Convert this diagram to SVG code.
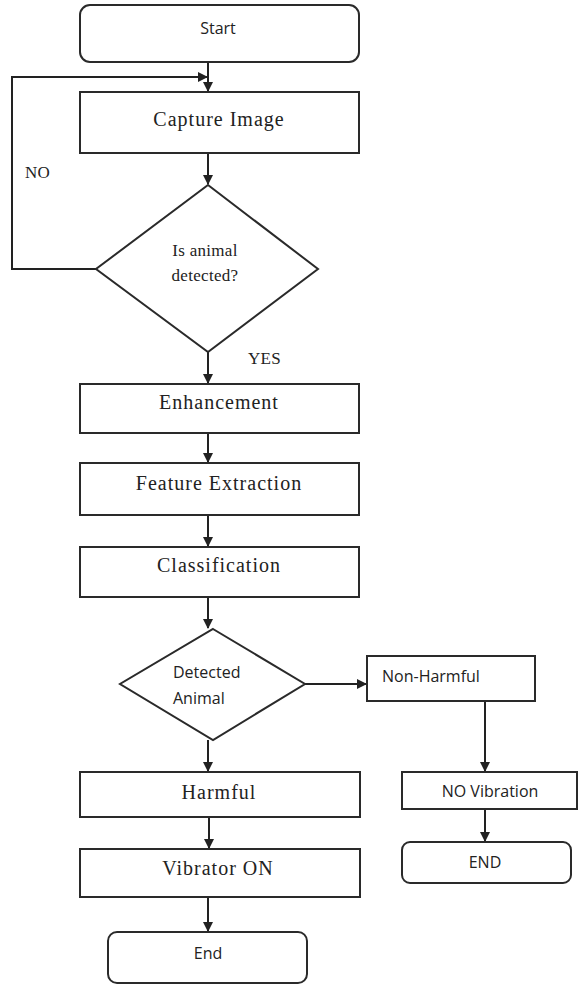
<svg xmlns="http://www.w3.org/2000/svg" width="579" height="985" viewBox="0 0 579 985">
  <defs>
    <marker id="arrow" markerWidth="10" markerHeight="10" refX="9" refY="5" orient="auto" markerUnits="userSpaceOnUse">
      <path d="M0,0 L10,5 L0,10 Z" fill="#222"/>
    </marker>
    <style>
      .box { fill: #fff; stroke: #2a2a2a; stroke-width: 2; }
      .line { fill: none; stroke: #222; stroke-width: 2; }
      .serif { font-family: "Liberation Serif", "Times New Roman", serif; font-size: 20px; letter-spacing: 1px; fill: #222; }
      .small { font-size: 17px; letter-spacing: 0.3px; }
      .sans { font-family: "Open Sans", "DejaVu Sans", sans-serif; font-size: 16px; fill: #222; }
      .mid { text-anchor: middle; }
    </style>
  </defs>
  <rect width="579" height="985" fill="#fff"/>

  <g id="connectors">
    <line class="line" x1="208" y1="62" x2="208" y2="91" marker-end="url(#arrow)"/>
    <polyline class="line" points="96,269 12,269 12,77 207,77" marker-end="url(#arrow)"/>
    <line class="line" x1="208" y1="153" x2="208" y2="184" marker-end="url(#arrow)"/>
    <line class="line" x1="208" y1="352" x2="208" y2="383" marker-end="url(#arrow)"/>
    <line class="line" x1="208" y1="433" x2="208" y2="462" marker-end="url(#arrow)"/>
    <line class="line" x1="208" y1="515" x2="208" y2="546" marker-end="url(#arrow)"/>
    <line class="line" x1="208" y1="597" x2="208" y2="628" marker-end="url(#arrow)"/>
    <line class="line" x1="305" y1="684" x2="366" y2="684" marker-end="url(#arrow)"/>
    <line class="line" x1="208" y1="740" x2="208" y2="771" marker-end="url(#arrow)"/>
    <line class="line" x1="485" y1="701" x2="485" y2="771" marker-end="url(#arrow)"/>
    <line class="line" x1="209" y1="817" x2="209" y2="848" marker-end="url(#arrow)"/>
    <line class="line" x1="485" y1="809" x2="485" y2="841" marker-end="url(#arrow)"/>
    <line class="line" x1="208" y1="897" x2="208" y2="931" marker-end="url(#arrow)"/>
    <text class="serif small" x="25" y="178">NO</text>
    <text class="serif small" x="248" y="364">YES</text>
  </g>

  <g id="start">
    <rect class="box" x="80" y="5" width="279" height="57" rx="10"/>
    <text class="sans mid" x="218" y="34">Start</text>
  </g>
  <g id="capture">
    <rect class="box" x="80" y="92" width="279" height="61"/>
    <text class="serif mid" x="219" y="126">Capture Image</text>
  </g>
  <g id="detect">
    <polygon class="box" points="208,185 318,269 208,352 96,269"/>
    <text class="serif mid small" x="205" y="256">Is animal</text>
    <text class="serif mid small" x="205" y="281">detected?</text>
  </g>
  <g id="enhancement">
    <rect class="box" x="80" y="384" width="279" height="49"/>
    <text class="serif mid" x="219" y="409">Enhancement</text>
  </g>
  <g id="feature">
    <rect class="box" x="80" y="463" width="279" height="52"/>
    <text class="serif mid" x="219" y="490">Feature Extraction</text>
  </g>
  <g id="classification">
    <rect class="box" x="80" y="547" width="279" height="50"/>
    <text class="serif mid" x="219" y="572">Classification</text>
  </g>
  <g id="animal">
    <polygon class="box" points="213,629 305,684 213,740 120,684"/>
    <text class="sans" x="173" y="678">Detected</text>
    <text class="sans" x="173" y="704">Animal</text>
  </g>
  <g id="nonharmful">
    <rect class="box" x="367" y="656" width="168" height="45"/>
    <text class="sans" x="382" y="682">Non-Harmful</text>
  </g>
  <g id="harmful">
    <rect class="box" x="80" y="772" width="280" height="45"/>
    <text class="serif mid" x="219" y="799">Harmful</text>
  </g>
  <g id="novibration">
    <rect class="box" x="402" y="772" width="175" height="37"/>
    <text class="sans mid" x="490" y="797">NO Vibration</text>
  </g>
  <g id="vibrator">
    <rect class="box" x="80" y="849" width="280" height="48"/>
    <text class="serif mid" x="218" y="875">Vibrator ON</text>
  </g>
  <g id="end">
    <rect class="box" x="108" y="932" width="199" height="51" rx="9"/>
    <text class="sans mid" x="208" y="959">End</text>
  </g>
  <g id="end2">
    <rect class="box" x="402" y="842" width="169" height="41" rx="8"/>
    <text class="sans mid" x="485" y="868">END</text>
  </g>
</svg>
